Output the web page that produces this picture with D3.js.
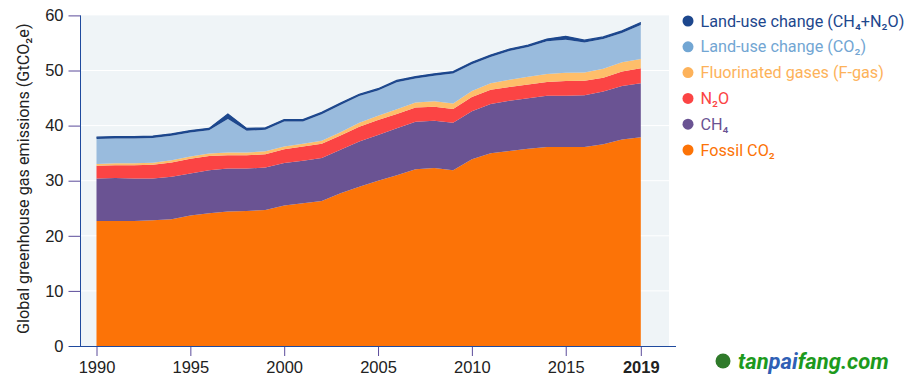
<!DOCTYPE html>
<html>
<head>
<meta charset="utf-8">
<script src="https://cdn.jsdelivr.net/npm/d3@7"></script>
<style>
  body { margin: 0; background: #fff; }
  svg { display: block; font-family: Roboto, "Noto Sans", sans-serif; }
</style>
</head>
<body>
<svg id="chart" width="912" height="382"></svg>
<script>
const years = d3.range(1990, 2020);

const fossilCO2 = [22.7, 22.7, 22.7, 22.8, 23.0, 23.7, 24.1, 24.4, 24.5, 24.7,
  25.5, 25.9, 26.3, 27.7, 28.9, 30.0, 31.0, 32.1, 32.3, 31.9,
  33.9, 35.0, 35.4, 35.8, 36.1, 36.1, 36.1, 36.6, 37.5, 37.9];
const ch4 = [7.7, 7.8, 7.7, 7.6, 7.7, 7.6, 7.8, 7.8, 7.7, 7.7,
  7.7, 7.7, 7.8, 7.9, 8.2, 8.3, 8.5, 8.6, 8.6, 8.6,
  8.7, 8.9, 9.1, 9.15, 9.3, 9.3, 9.4, 9.6, 9.7, 9.8];
const n2o = [2.3, 2.3, 2.4, 2.5, 2.6, 2.7, 2.6, 2.4, 2.4, 2.4,
  2.5, 2.6, 2.6, 2.6, 2.7, 2.7, 2.6, 2.6, 2.5, 2.5,
  2.6, 2.6, 2.5, 2.5, 2.5, 2.7, 2.65, 2.5, 2.6, 2.7];
const fgas = [0.35, 0.35, 0.35, 0.35, 0.4, 0.4, 0.45, 0.5, 0.5, 0.55,
  0.5, 0.5, 0.55, 0.6, 0.7, 0.8, 0.85, 0.9, 1.0, 1.0,
  1.1, 1.2, 1.3, 1.4, 1.45, 1.5, 1.5, 1.6, 1.7, 1.7];
const lucCO2 = [4.5, 4.5, 4.5, 4.5, 4.45, 4.35, 4.2, 6.1, 3.95, 3.9,
  4.55, 4.05, 4.8, 4.95, 4.85, 4.55, 4.9, 4.35, 4.65, 5.45,
  4.85, 4.75, 5.25, 5.4, 5.95, 6.0, 5.45, 5.4, 5.3, 6.15];
const lucNonCO2 = [0.35, 0.35, 0.35, 0.35, 0.35, 0.35, 0.35, 0.9, 0.45, 0.35,
  0.35, 0.35, 0.35, 0.35, 0.35, 0.35, 0.35, 0.35, 0.35, 0.35,
  0.35, 0.35, 0.35, 0.35, 0.4, 0.6, 0.4, 0.4, 0.4, 0.45];

const seriesKeys = ['fossil', 'ch4', 'n2o', 'fgas', 'lucCO2', 'lucN'];
const seriesColors = ['#fc7307', '#6a5393', '#fb4444', '#febe6a', '#99bbdd', '#1d478d'];
const legendLabels = ['Land-use change (CH₄+N₂O)', 'Land-use change (CO₂)',
  'Fluorinated gases (F-gas)', 'N₂O', 'CH₄', 'Fossil CO₂'];
const legendColors = ['#1d478d', '#72a6d3', '#fdb25a', '#fb4444', '#6a5393', '#fc7307'];
const yTicks = [0, 10, 20, 30, 40, 50, 60];
const xTicks = [1990, 1995, 2000, 2005, 2010, 2015, 2019];

// table for the stack
const table = years.map((yr, i) => ({
  year : yr,
  fossil : fossilCO2[i],
  ch4 : ch4[i],
  n2o : n2o[i],
  fgas : fgas[i],
  lucCO2 : lucCO2[i],
  lucN : lucNonCO2[i]
}));

const svg = d3.select('#chart');

const x = d3.scaleLinear().domain([1990, 2019]).range([96.5, 640.8]);
const y = d3.scaleLinear().domain([0, 60]).range([346, 15.4]);

const plotLeft = 81, plotRight = 669;

// plot background
svg.append('rect')
  .attr('x', plotLeft)
  .attr('y', y(60))
  .attr('width', plotRight - plotLeft)
  .attr('height', y(0) - y(60))
  .attr('fill', '#eff4f7');

// white gridlines
svg.append('g')
  .selectAll('line')
  .data(yTicks.slice(1, -1))
  .enter()
  .append('line')
  .attr('x1', plotLeft)
  .attr('x2', plotRight)
  .attr('y1', (d) => y(d))
  .attr('y2', (d) => y(d))
  .attr('stroke', '#fff')
  .attr('stroke-width', 1);

const stacked = d3.stack().keys(seriesKeys)(table);

const area = d3.area()
  .x((d) => x(d.data.year))
  .y0((d) => y(d[0]))
  .y1((d) => y(d[1]));

svg.append('g')
  .selectAll('path')
  .data(stacked)
  .enter()
  .append('path')
  .attr('d', area)
  .attr('fill', (d, i) => seriesColors[i]);

// outline on top series so the thin band stays visible
svg.append('path')
  .datum(stacked[stacked.length - 1])
  .attr('d', d3.line().x((d) => x(d.data.year)).y((d) => y(d[1])))
  .attr('fill', 'none')
  .attr('stroke', '#1d478d')
  .attr('stroke-width', 1.2);

// y axis
const yAxis = svg.append('g')
  .attr('transform', `translate(${plotLeft - 0.5},0)`)
  .call(d3.axisLeft(y).tickValues(yTicks).tickSize(12).tickPadding(5));
yAxis.select('.domain').remove();
yAxis.selectAll('.tick line').attr('stroke', '#5b4b9a');
yAxis.selectAll('.tick text')
  .attr('fill', '#222')
  .style('font-size', '16.5px');

svg.append('line')
  .attr('x1', plotLeft - 0.5).attr('x2', plotLeft - 0.5)
  .attr('y1', y(60)).attr('y2', y(0))
  .attr('stroke', '#1f4a9e');

// x axis
const xAxis = svg.append('g')
  .attr('transform', `translate(0,${y(0)})`)
  .call(d3.axisBottom(x).tickValues(xTicks).tickFormat(d3.format('d')).tickSize(10).tickPadding(5));
xAxis.select('.domain').remove();
xAxis.selectAll('.tick line').attr('stroke', '#5b4b9a');
xAxis.selectAll('.tick text')
  .attr('fill', '#222')
  .style('font-size', '16.5px')
  .style('font-weight', (d) => (d === 2019 ? 'bold' : 'normal'));

svg.append('line')
  .attr('x1', 69).attr('x2', 676)
  .attr('y1', y(0) + 0.5).attr('y2', y(0) + 0.5)
  .attr('stroke', '#1f4a9e');

// y axis title
svg.append('text')
  .attr('transform', `translate(29,${(y(0) + y(60)) / 2 - 2}) rotate(-90)`)
  .attr('text-anchor', 'middle')
  .attr('fill', '#222')
  .style('font-size', '16.2px')
  .text('Global greenhouse gas emissions (GtCO₂e)');

// legend
const legend = svg.append('g')
  .selectAll('g')
  .data(legendLabels)
  .enter()
  .append('g')
  .attr('transform', (d, i) => `translate(688,${21 + i * 25.8})`);

legend.append('circle')
  .attr('r', 5.5)
  .attr('fill', (d, i) => legendColors[i]);

legend.append('text')
  .attr('x', 12.5)
  .attr('dy', '0.35em')
  .attr('fill', (d, i) => legendColors[i])
  .style('font-size', '16.2px')
  .text((d) => d);

// watermark
const mark = svg.append('g').attr('transform', 'translate(723,361)');
mark.append('circle').attr('r', 7.5).attr('fill', '#2f7a2a');
mark.append('text')
  .attr('x', 15)
  .attr('dy', '0.35em')
  .style('font-size', '22px')
  .style('font-weight', 'bold')
  .style('font-style', 'italic')
  .attr('fill', '#1d9a1d')
  .call((t) => {
    t.append('tspan').text('tan');
    t.append('tspan').attr('fill', '#2f5fb5').text('pai');
    t.append('tspan').text('fang.com');
  });
</script>
</body>
</html>
